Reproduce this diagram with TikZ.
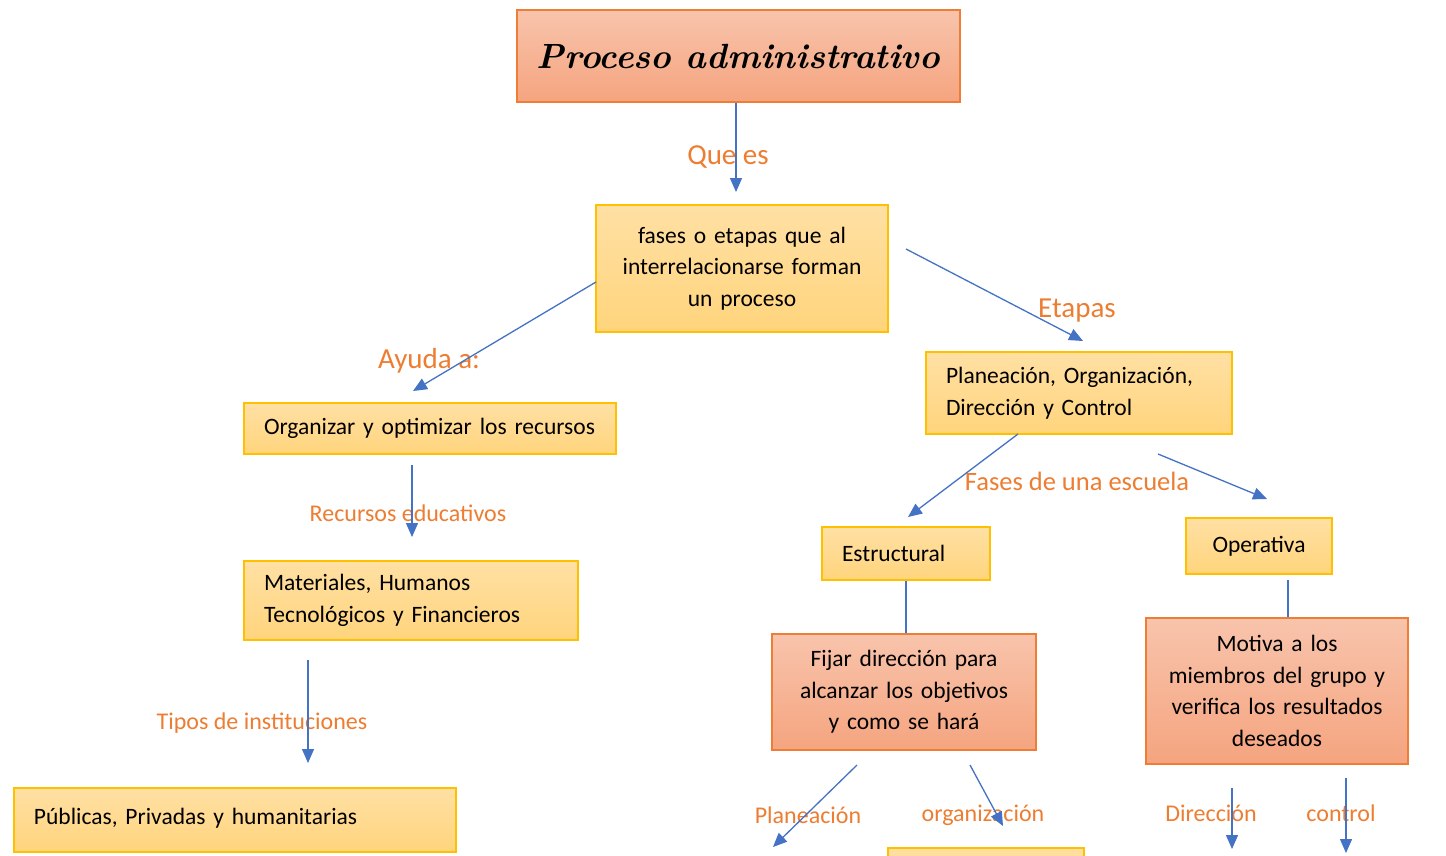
\documentclass[tikz,border=0pt]{standalone}
\usepackage{fontspec}
\setmainfont{Carlito}
\usetikzlibrary{arrows.meta,positioning}
\definecolor{ybord}{HTML}{FFC000}
\definecolor{ytop}{HTML}{FFE0A4}
\definecolor{ybot}{HTML}{FFD47C}
\definecolor{obord}{HTML}{EE7E36}
\definecolor{otop}{HTML}{F8C4AC}
\definecolor{obot}{HTML}{F5A47F}
\definecolor{lbl}{HTML}{ED7D31}
\definecolor{arr}{HTML}{4472C4}
\newfontfamily\titlefont{Latin Modern Roman}
\tikzset{
  boxbase/.style={draw, line width=1.2pt, font=\fontsize{23.5}{31.5}\selectfont, inner ysep=0pt},
  ybox/.style={boxbase, draw=ybord, top color=ytop, bottom color=ybot},
  obox/.style={boxbase, draw=obord, top color=otop, bottom color=obot},
  lefttext/.style={align=left, inner xsep=20pt},
  midtext/.style={align=center, inner xsep=10pt},
  lab/.style={text=lbl, inner sep=0pt},
  biglab/.style={lab, font=\fontsize{29}{33}\selectfont},
  smlab/.style={lab, font=\fontsize{24}{28}\selectfont},
  conn/.style={draw=arr, line width=1.3pt, -{Triangle[length=14pt,width=12pt]}},
  plain/.style={draw=arr, line width=1.3pt},
}
\begin{document}
\begin{tikzpicture}[x=1pt,y=-1pt]
\useasboundingbox[fill=white] (0,0) rectangle (1446,856);

% boxes
\node[obox, minimum width=443pt, minimum height=92pt, font=\titlefont\fontsize{35}{40}\selectfont\bfseries\itshape] (title) at (738.5,56) {Proceso administrativo};
\node[ybox, midtext, text width=272pt, minimum height=127pt] (fases) at (742,268.5) {fases o etapas que al\\interrelacionarse forman\\un proceso};
\node[ybox, lefttext, text width=332pt, minimum height=51pt] (org) at (430,428.5) {Organizar y optimizar los recursos};
\node[ybox, lefttext, text width=294pt, minimum height=79pt] (mat) at (411,600.5) {Materiales, Humanos\\Tecnológicos y Financieros};
\node[ybox, lefttext, text width=402pt, minimum height=64pt] (pub) at (235,820) {\raisebox{7pt}{Públicas, Privadas y humanitarias}};
\node[ybox, lefttext, text width=266pt, minimum height=82pt] (plan) at (1079,393) {Planeación, Organización,\\Dirección y Control};
\node[ybox, lefttext, text width=128pt, minimum height=53pt] (est) at (906,553.5) {Estructural};
\node[ybox, midtext, text width=126pt, minimum height=56pt] (ope) at (1259,546) {Operativa};
\node[obox, midtext, text width=244pt, minimum height=116pt] (fijar) at (904,692) {Fijar dirección para\\alcanzar los objetivos\\y como se hará};
\node[obox, midtext, text width=242pt, minimum height=146pt] (motiva) at (1277,691) {Motiva a los\\miembros del grupo y\\verifica los resultados\\deseados};
\node[ybox, minimum width=196pt, minimum height=40pt] (partial) at (986,868) {};

% labels
\node[biglab] (lque) at (728,157) {Que es};
\node[biglab] (layu) at (429,361) {Ayuda a:};
\node[biglab] (leta) at (1077,311) {Etapas};
\node[smlab] (lrec) at (408,513) {Recursos educativos};
\node[smlab] (ltip) at (262,723) {Tipos de instituciones};
\node[lab, font=\fontsize{26.5}{30}\selectfont] (lfas) at (1077,481) {Fases de una escuela};
\node[smlab] (lpla) at (808,815) {Planeación};
\node[smlab] (lorg) at (983,815) {organización};
\node[smlab] (ldir) at (1211,813) {Dirección};
\node[smlab] (lcon) at (1341,813) {control};

% free ends
\coordinate (e1) at (736,192);
\coordinate (s2) at (596,282);
\coordinate (e2) at (413,391);
\coordinate (s3) at (906,249);
\coordinate (e3) at (1083,341);
\coordinate (s4) at (412,465);
\coordinate (e4) at (412,537);
\coordinate (s5) at (308,660);
\coordinate (e5) at (308,763);
\coordinate (s6) at (1018,434);
\coordinate (e6) at (908,517);
\coordinate (s7) at (1158,454);
\coordinate (e7) at (1267,499);
\coordinate (s8) at (857,765);
\coordinate (e8) at (773,847);
\coordinate (s9) at (970,765);
\coordinate (e9) at (1003,826);
\coordinate (s10) at (1232,788);
\coordinate (e10) at (1232,849);
\coordinate (s11) at (1346,778);
\coordinate (e11) at (1346,853);
\coordinate (s12) at (1288,580);

% connectors
\draw[conn] (title.south -| e1) -- (e1);
\draw[conn] (s2) -- (e2);
\draw[conn] (s3) -- (e3);
\draw[conn] (s4) -- (e4);
\draw[conn] (s5) -- (e5);
\draw[conn] (s6) -- (e6);
\draw[conn] (s7) -- (e7);
\draw[plain] (est.south) -- (est.south |- fijar.north);
\draw[plain] (s12) -- (s12 |- motiva.north);
\draw[conn] (s8) -- (e8);
\draw[conn] (s9) -- (e9);
\draw[conn] (s10) -- (e10);
\draw[conn] (s11) -- (e11);
\end{tikzpicture}
\end{document}
